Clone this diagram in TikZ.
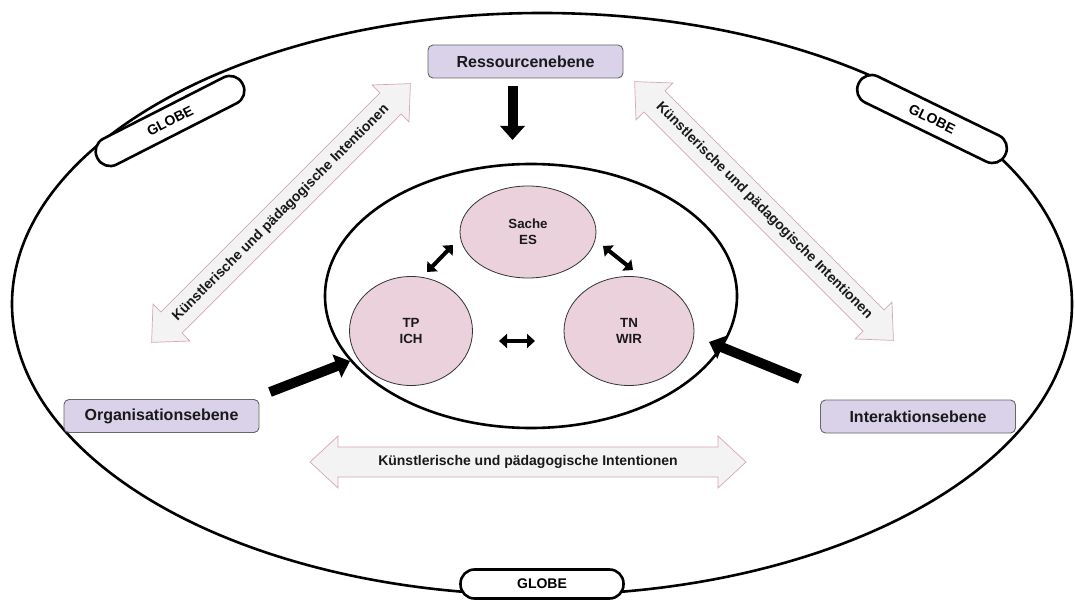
\documentclass[tikz,border=0pt]{standalone}
\usepackage{fontspec}
\setmainfont{Liberation Sans}
\usetikzlibrary{arrows.meta,shapes.geometric}
\definecolor{boxfill}{HTML}{D9D2E9}
\definecolor{boxline}{HTML}{666666}
\definecolor{circfill}{HTML}{EAD1DC}
\definecolor{arrfill}{HTML}{F3F3F3}
\definecolor{arrline}{HTML}{D5A6BD}
\newcommand\intentarrow[5]{%
  \begin{scope}[shift={(#2,#3)}, rotate=#4]
    \filldraw[intentshape] (-#5,0) -- (-#5+28,26) -- (-#5+28,15) -- (#5-28,15) -- (#5-28,26) -- (#5,0)
      -- (#5-28,-26) -- (#5-28,-15) -- (-#5+28,-15) -- (-#5+28,-26) -- cycle;
    \node[intenttext] (#1) at (0,0) {Künstlerische und pädagogische Intentionen};
  \end{scope}}
\begin{document}
\begin{tikzpicture}[x=1pt,y=-1pt,
  levelbox/.style={draw=boxline, fill=boxfill, rounded corners=5pt, line width=0.9pt,
    minimum width=195pt, minimum height=33pt, inner sep=0pt,
    font=\fontsize{16}{18}\selectfont\bfseries, text=black!90},
  kreis/.style={ellipse, draw=black!80, fill=circfill, line width=0.8pt, inner sep=0pt,
    align=center, font=\fontsize{13.3}{16}\selectfont\bfseries, text=black!90},
  globe/.style={draw=black, fill=white, line width=2.6pt, rounded corners=14pt,
    minimum width=163pt, minimum height=29pt, inner sep=0pt,
    font=\fontsize{14}{16}\selectfont\bfseries},
  intentshape/.style={fill=arrfill, draw=arrline, line width=0.7pt},
  intenttext/.style={transform shape, inner sep=0pt, font=\fontsize{14}{16}\selectfont\bfseries, text=black!90},
  bigarrow/.style={line width=10pt, -{Triangle[length=14pt,width=24pt]}},
  smallarrow/.style={line width=4pt, {Triangle[length=8pt,width=14pt]}-{Triangle[length=8pt,width=14pt]}}
]
\useasboundingbox (0,0) rectangle (1075,601);
\fill[white] (0,0) rectangle (1075,601);

% outer ellipse
\draw[line width=2.6pt] (542,304) ellipse [x radius=530pt, y radius=291pt];

% globes
\node[globe, rotate=27] (g1) at (170,121) {GLOBE};
\node[globe, rotate=-26] (g2) at (932,119) {GLOBE};
\node[globe] (g3) at (542,584) {GLOBE};

% intentions arrows
\intentarrow{i1}{281}{213}{45}{183}
\intentarrow{i2}{764}{211}{-45}{183}
\intentarrow{i3}{528}{462}{0}{218}

% inner ellipse
\draw[line width=2.6pt] (531,296) ellipse [x radius=206pt, y radius=132pt];

% circles
\node[kreis, minimum width=136pt, minimum height=92pt] (sache) at (528,232) {Sache\\ES};
\node[kreis, minimum width=123pt, minimum height=109pt] (tp) at (411,331) {TP\\ICH};
\node[kreis, minimum width=130pt, minimum height=109pt] (tn) at (629,331) {TN\\WIR};

% small arrows
\coordinate (s1) at (427,272); \coordinate (s2) at (453,245);
\coordinate (s3) at (603,246); \coordinate (s4) at (633,270);
\coordinate (s5) at (499,341); \coordinate (s6) at (535,341);
\draw[smallarrow] (s1) -- (s2);
\draw[smallarrow] (s3) -- (s4);
\draw[smallarrow] (s5) -- (s6);

% level boxes
\node[levelbox] (res) at (525.5,61.5) {Ressourcenebene};
\node[levelbox] (org) at (161.5,416) {Organisationsebene};
\node[levelbox] (int) at (918,416.5) {Interaktionsebene};

% big arrows
\coordinate (r1) at (512.5,86); \coordinate (r2) at (512.5,140);
\coordinate (o1) at (270,392); \coordinate (o2) at (350,361);
\coordinate (n1) at (800,379); \coordinate (n2) at (709,342);
\draw[bigarrow] (r1) -- (r2);
\draw[bigarrow] (o1) -- (o2);
\draw[bigarrow] (n1) -- (n2);
\end{tikzpicture}
\end{document}
